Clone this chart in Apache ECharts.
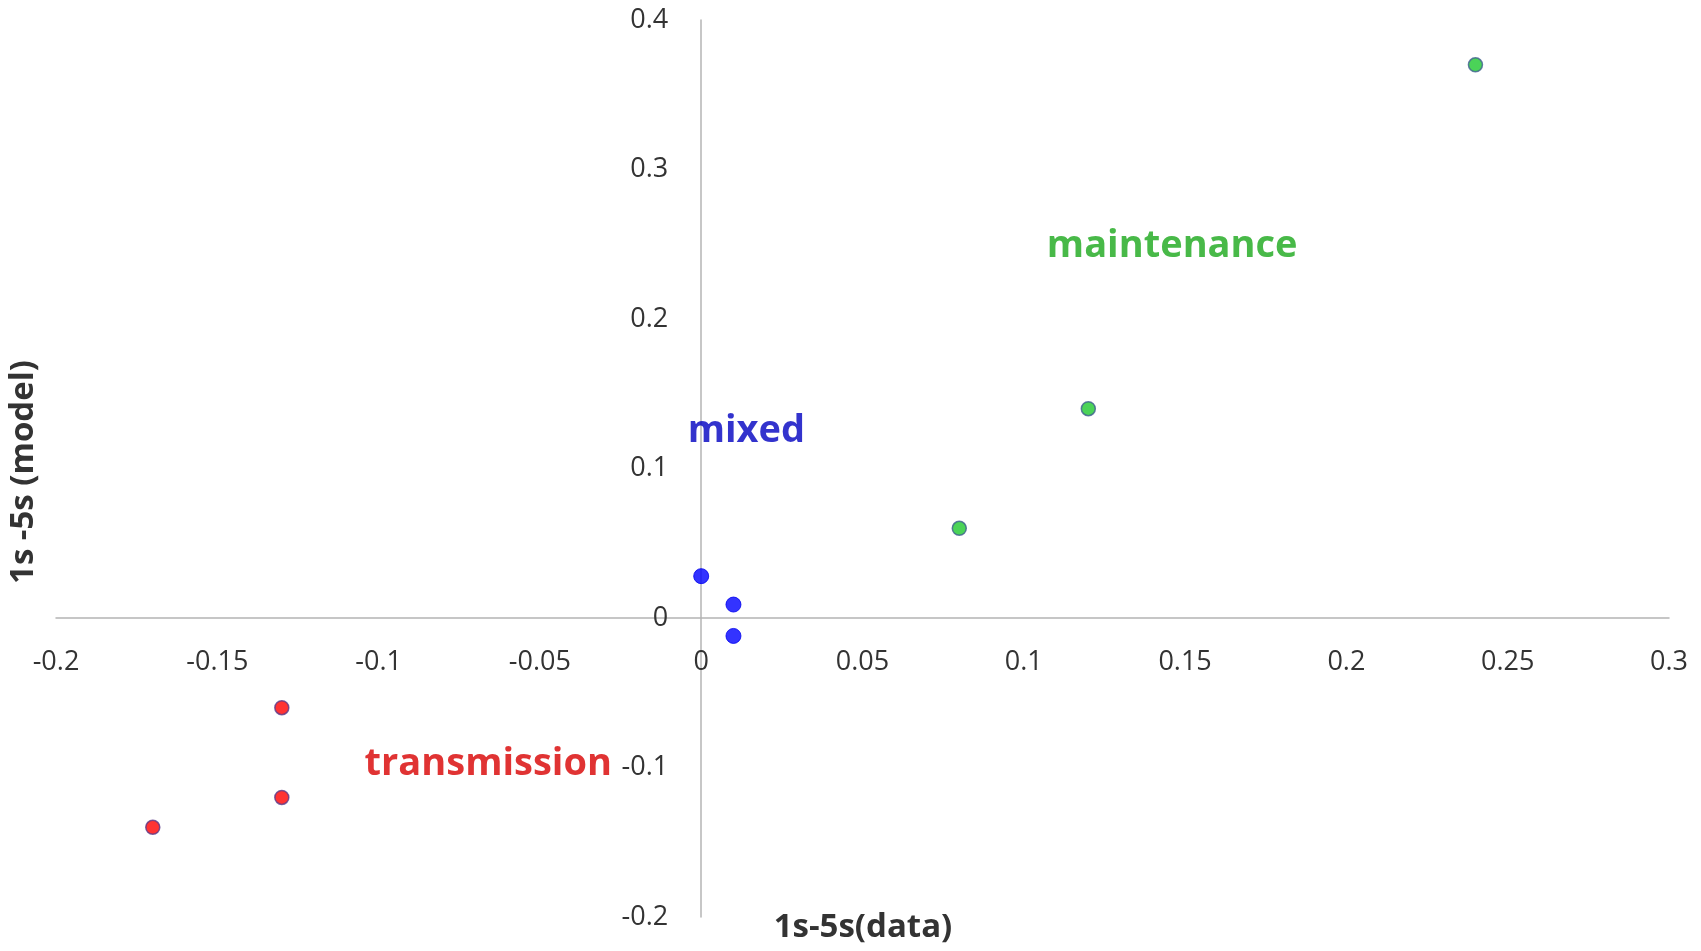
<!DOCTYPE html>
<html>
<head>
<meta charset="utf-8">
<script src="https://cdn.jsdelivr.net/npm/echarts@6/dist/echarts.min.js"></script>
<style>
html,body{margin:0;padding:0;background:#fff;}
#c{width:1701px;height:951px;}
</style>
</head>
<body>
<div id="c"></div>
<script>
// Data
const maintenanceX = [0.08, 0.12, 0.24];
const maintenanceY = [0.06, 0.14, 0.37];
const mixedX = [0, 0.01, 0.01];
const mixedY = [0.028, 0.009, -0.012];
const transmissionX = [-0.13, -0.13, -0.17];
const transmissionY = [-0.06, -0.12, -0.14];
const groupLabels = ['maintenance', 'mixed', 'transmission'];
const labelX = [0.146, 0.014, -0.066];
const labelY = [0.249, 0.125, -0.098];
const xTitle = '1s-5s(data)';
const yTitle = '1s -5s (model)';

const pairs = (xs, ys) => xs.map((x, i) => [x, ys[i]]);
const labelColors = ['#1aa81a', '#0000c0', '#d80000'];

const W = 1701, H = 951;
const G = { left: 56, right: 32, top: 20, bottom: 34 };
const xMin = -0.2, xMax = 0.3, yMin = -0.2, yMax = 0.4;
const gridW = W - G.left - G.right, gridH = H - G.top - G.bottom;
// move axes so they cross at the origin
const xAxisOffset = -gridH * (0 - yMin) / (yMax - yMin);
const yAxisOffset = -gridW * (0 - xMin) / (xMax - xMin);

const chart = echarts.init(document.getElementById('c'));
const font = '"Open Sans", "Noto Sans", sans-serif';
chart.setOption({
  animation: false,
  backgroundColor: '#ffffff',
  grid: { left: G.left, right: G.right, top: G.top, bottom: G.bottom, containLabel: false, outerBoundsMode: 'none' },
  xAxis: {
    type: 'value', min: xMin, max: xMax, interval: 0.05, position: 'bottom', offset: xAxisOffset,
    axisLine: { onZero: false, lineStyle: { color: '#b4b4b4', width: 1.5 } },
    axisTick: { show: false },
    splitLine: { show: false },
    axisLabel: { margin: 31, fontSize: 27, color: '#333333', fontFamily: font }
  },
  yAxis: {
    type: 'value', min: yMin, max: yMax, interval: 0.1, position: 'left', offset: yAxisOffset,
    axisLine: { show: true, onZero: false, lineStyle: { color: '#b4b4b4', width: 1.5 } },
    axisTick: { show: false },
    splitLine: { show: false },
    axisLabel: { margin: 33, fontSize: 27, color: '#333333', fontFamily: font }
  },
  graphic: [
    { type: 'text', x: 863, y: 928,
      style: { text: xTitle, font: 'bold 33px ' + font, fill: '#333333', align: 'center', verticalAlign: 'middle' } },
    { type: 'text', x: 24, y: 472, rotation: Math.PI / 2,
      style: { text: yTitle, font: 'bold 33px ' + font, fill: '#333333', align: 'center', verticalAlign: 'middle' } }
  ],
  series: [
    { type: 'scatter', name: 'maintenance', data: pairs(maintenanceX, maintenanceY), symbolSize: 14,
      itemStyle: { color: '#1ec82e', borderColor: '#3d5f8f', borderWidth: 1.5 } },
    { type: 'scatter', name: 'mixed', data: pairs(mixedX, mixedY), symbolSize: 15,
      itemStyle: { color: '#0000ff', borderColor: '#0000ee', borderWidth: 1 } },
    { type: 'scatter', name: 'transmission', data: pairs(transmissionX, transmissionY), symbolSize: 14,
      itemStyle: { color: '#ff0000', borderColor: '#5a3a8a', borderWidth: 1.5 } },
    { type: 'scatter', name: 'labels', symbolSize: 0, silent: true, z: 5,
      data: groupLabels.map((n, i) => ({
        name: n, value: [labelX[i], labelY[i]],
        label: { show: true, position: 'inside', formatter: n, color: labelColors[i],
                 fontSize: 38, fontWeight: 'bold', fontFamily: font }
      }))
    }
  ]
});
</script>
</body>
</html>
